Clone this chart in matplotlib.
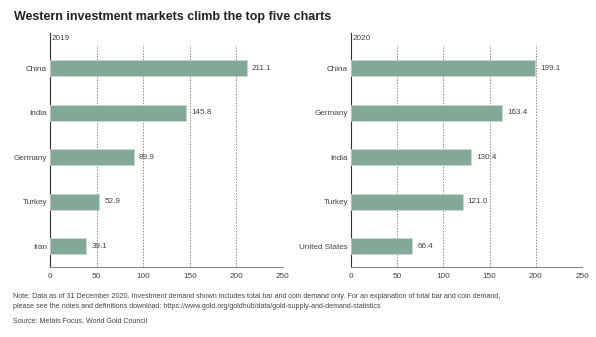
import matplotlib
matplotlib.use("Agg")
import matplotlib.pyplot as plt

countries_2019 = ["China", "India", "Germany", "Turkey", "Iran"]
values_2019 = [211.1, 145.8, 89.9, 52.9, 39.1]
countries_2020 = ["China", "Germany", "India", "Turkey", "United States"]
values_2020 = [199.1, 163.4, 130.4, 121.0, 66.4]
xticks = [0, 50, 100, 150, 200, 250]

title = "Western investment markets climb the top five charts"
note = ("Note: Data as of 31 December 2020. Investment demand shown includes total bar and coin demand only. For an explanation of total bar and coin demand,\n"
        "please see the notes and definitions download: https://www.gold.org/goldhub/data/gold-supply-and-demand-statistics")
source = "Source: Metals Focus, World Gold Council"

plt.rcParams['font.family'] = ['Liberation Sans', 'DejaVu Sans']
W, H = 596, 337
fig = plt.figure(figsize=(W/100, H/100), dpi=100)

bar_color = "#83a897"
text_color = "#444444"
fs = 5.9

def panel(left_px, right_px, cats, vals, year):
    top_px, bot_px = 33, 267
    ax = fig.add_axes([left_px/W, 1 - bot_px/H, (right_px-left_px)/W, (bot_px-top_px)/H])
    y = list(range(len(cats)))
    ax.barh(y, vals, height=0.36, color=bar_color, edgecolor="#c9d9d0", linewidth=0.6, zorder=3)
    ax.set_xlim(0, 250)
    ax.set_ylim(4.47, -0.79)
    for t in xticks[1:]:
        ax.plot([t, t], [4.47, -0.52], linestyle=(0, (1.5, 1.5)), color="#8a8a8a", linewidth=0.7, zorder=1)
    ax.set_yticks(y)
    ax.set_yticklabels(cats, fontsize=fs, color=text_color)
    ax.set_xticks(xticks)
    ax.set_xticklabels([str(t) for t in xticks], fontsize=fs, color=text_color)
    ax.tick_params(axis='y', length=0, pad=2)
    ax.tick_params(axis='x', length=0, pad=4)
    for s in ["top", "right"]:
        ax.spines[s].set_visible(False)
    ax.spines["left"].set_color("#333333")
    ax.spines["left"].set_linewidth(0.8)
    ax.spines["bottom"].set_color("#888888")
    ax.spines["bottom"].set_linewidth(0.8)
    for yi, v in zip(y, vals):
        ax.text(v + 5.5, yi, f"{v:.1f}", va="center", ha="left", fontsize=fs, color=text_color)
    ax.text(2, -0.75, year, va="top", ha="left", fontsize=fs, color=text_color)
    return ax

panel(50, 283, countries_2019, values_2019, "2019")
panel(351, 582, countries_2020, values_2020, "2020")

fig.text(14/W, 1 - 17/H, title, fontsize=9, fontweight="bold", color="#222222", va="center", ha="left")
fig.text(13/W, 1 - 293/H, note, fontsize=5.15, color=text_color, va="top", ha="left", linespacing=1.6)
fig.text(13/W, 1 - 321/H, source, fontsize=5.15, color=text_color, va="center", ha="left")

fig.savefig("out.png", dpi=100)
